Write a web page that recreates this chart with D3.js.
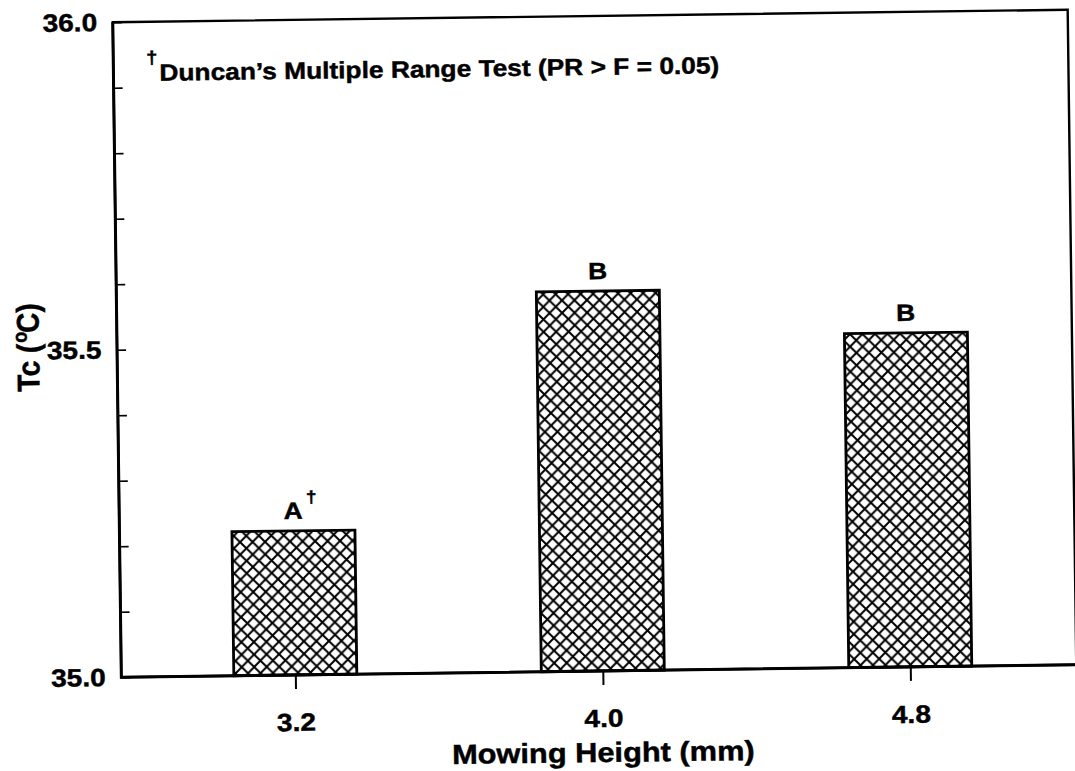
<!DOCTYPE html>
<html>
<head>
<meta charset="utf-8">
<script src="https://cdn.jsdelivr.net/npm/d3@7"></script>
<style>
  body { margin: 0; background: #fff; }
  svg { display: block; }
  text { font-family: "Liberation Sans", Arial, Helvetica, sans-serif; font-weight: bold; fill: #000; stroke: #000; stroke-width: 0.45px; }
</style>
</head>
<body>
<svg id="chart" width="1075" height="771"></svg>
<script>
// Canopy temperature by mowing height
const mowingHeights = ["3.2", "4.0", "4.8"];
const canopyTemp = [35.22, 35.58, 35.51];
const duncanGroups = ["A", "B", "B"];
const footnoteMarks = ["\u2020", "", ""];
const yTicks = [35.0, 35.1, 35.2, 35.3, 35.4, 35.5, 35.6, 35.7, 35.8, 35.9, 36.0];
const yTickLabels = [35.0, 35.5, 36.0];
const yDomain = [35.0, 36.0];
const footnote = "Duncan\u2019s Multiple Range Test (PR > F = 0.05)";
const xTitle = "Mowing Height (mm)";

const plot = { left: 117, right: 1072, top: 16, bottom: 671 };
const sx = 1.12;          // horizontal stretch of the lettering
const ink = "#000";

const svg = d3.select("#chart");
const g = svg.append("g").attr("transform", "rotate(-0.75,594,343)");

const x = d3.scalePoint().domain(mowingHeights).range([291, 906]);
const barW = x.step() * 0.4;
const y = d3.scaleLinear().domain(yDomain).range([plot.bottom, plot.top]);

// cross-hatch fill
const defs = svg.append("defs");
const cell = 12.5;
const pat = defs.append("pattern")
  .attr("id", "xhatch")
  .attr("patternUnits", "userSpaceOnUse")
  .attr("width", cell).attr("height", cell);
pat.append("rect").attr("width", cell).attr("height", cell).attr("fill", "#fff");
pat.append("path")
  .attr("d", `M-3,-3L${cell + 3},${cell + 3}M${cell + 3},-3L-3,${cell + 3}`)
  .attr("stroke", ink).attr("stroke-width", 2).attr("fill", "none");

// bars
g.selectAll("rect.bar")
  .data(canopyTemp)
  .join("rect")
  .attr("class", "bar")
  .attr("x", (d, i) => x(mowingHeights[i]) - barW / 2)
  .attr("y", d => y(d))
  .attr("width", barW)
  .attr("height", d => y(yDomain[0]) - y(d))
  .attr("fill", "url(#xhatch)")
  .attr("stroke", ink)
  .attr("stroke-width", 2.8);

// frame
g.append("rect")
  .attr("x", plot.left).attr("y", plot.top)
  .attr("width", plot.right - plot.left)
  .attr("height", plot.bottom - plot.top)
  .attr("fill", "none")
  .attr("stroke", ink)
  .attr("stroke-width", 2.4);
g.append("path")
  .attr("d", `M${plot.left},${plot.top}V${plot.bottom}H${plot.right}`)
  .attr("fill", "none").attr("stroke", ink).attr("stroke-width", 3);

// y axis: inward ticks every 0.1, labels at 35.0 / 35.5 / 36.0
const yAxis = g.append("g")
  .attr("transform", `translate(${plot.left},0)`)
  .call(d3.axisLeft(y)
    .tickValues(yTicks)
    .tickSizeInner(-9)
    .tickSizeOuter(0)
    .tickPadding(14)
    .tickFormat(d => yTickLabels.includes(d) ? d3.format(".1f")(d) : ""));
yAxis.select(".domain").remove();
yAxis.selectAll(".tick line").attr("stroke", ink).attr("stroke-width", 1.6);
yAxis.selectAll(".tick text")
  .attr("font-size", 25)
  .attr("font-family", null)
  .attr("transform", `scale(${sx},1)`);

// x axis: outward ticks at each mowing height
const xAxis = g.append("g")
  .attr("transform", `translate(0,${plot.bottom})`)
  .call(d3.axisBottom(x).tickSizeInner(14).tickSizeOuter(0));
xAxis.select(".domain").remove();
xAxis.selectAll(".tick line").attr("stroke", ink).attr("stroke-width", 2);
xAxis.selectAll(".tick text")
  .attr("font-size", 25)
  .attr("font-family", null)
  .attr("y", 56).attr("dy", null)
  .attr("transform", `scale(${sx},1)`);

// Duncan grouping letters above the bars
const letters = g.selectAll("g.grp")
  .data(canopyTemp)
  .join("g")
  .attr("class", "grp")
  .attr("transform", (d, i) => `translate(${x(mowingHeights[i])},${y(d) - 12}) scale(${sx},1)`);
letters.append("text")
  .attr("text-anchor", "middle")
  .attr("font-size", 23.5)
  .text((d, i) => duncanGroups[i]);
letters.append("text")
  .attr("x", function () {
    const w = this.parentNode.querySelector("text").getComputedTextLength();
    return w / 2 + 3;
  })
  .attr("y", -16)
  .attr("font-size", 17)
  .attr("font-weight", "normal")
  .text((d, i) => footnoteMarks[i]);

// footnote
g.append("text")
  .attr("transform", `translate(150,58) scale(${sx},1)`)
  .attr("font-size", 18)
  .attr("font-weight", "normal")
  .text("\u2020");
g.append("text")
  .attr("transform", `translate(163,75) scale(${sx},1)`)
  .attr("font-size", 23.5)
  .text(footnote);

// axis titles
g.append("text")
  .attr("transform", `translate(598,${plot.bottom + 91}) scale(${sx},1)`)
  .attr("text-anchor", "middle")
  .attr("font-size", 27.5)
  .text(xTitle);

const yt = g.append("text")
  .attr("transform", `translate(39,340) rotate(-90) scale(1,${sx})`)
  .attr("text-anchor", "middle")
  .attr("font-size", 28);
yt.append("tspan").text("Tc (");
yt.append("tspan").attr("font-size", 18).attr("dy", -11).attr("dx", 1).text("o");
yt.append("tspan").attr("dy", 11).attr("dx", -1).text("C)");
</script>
</body>
</html>
